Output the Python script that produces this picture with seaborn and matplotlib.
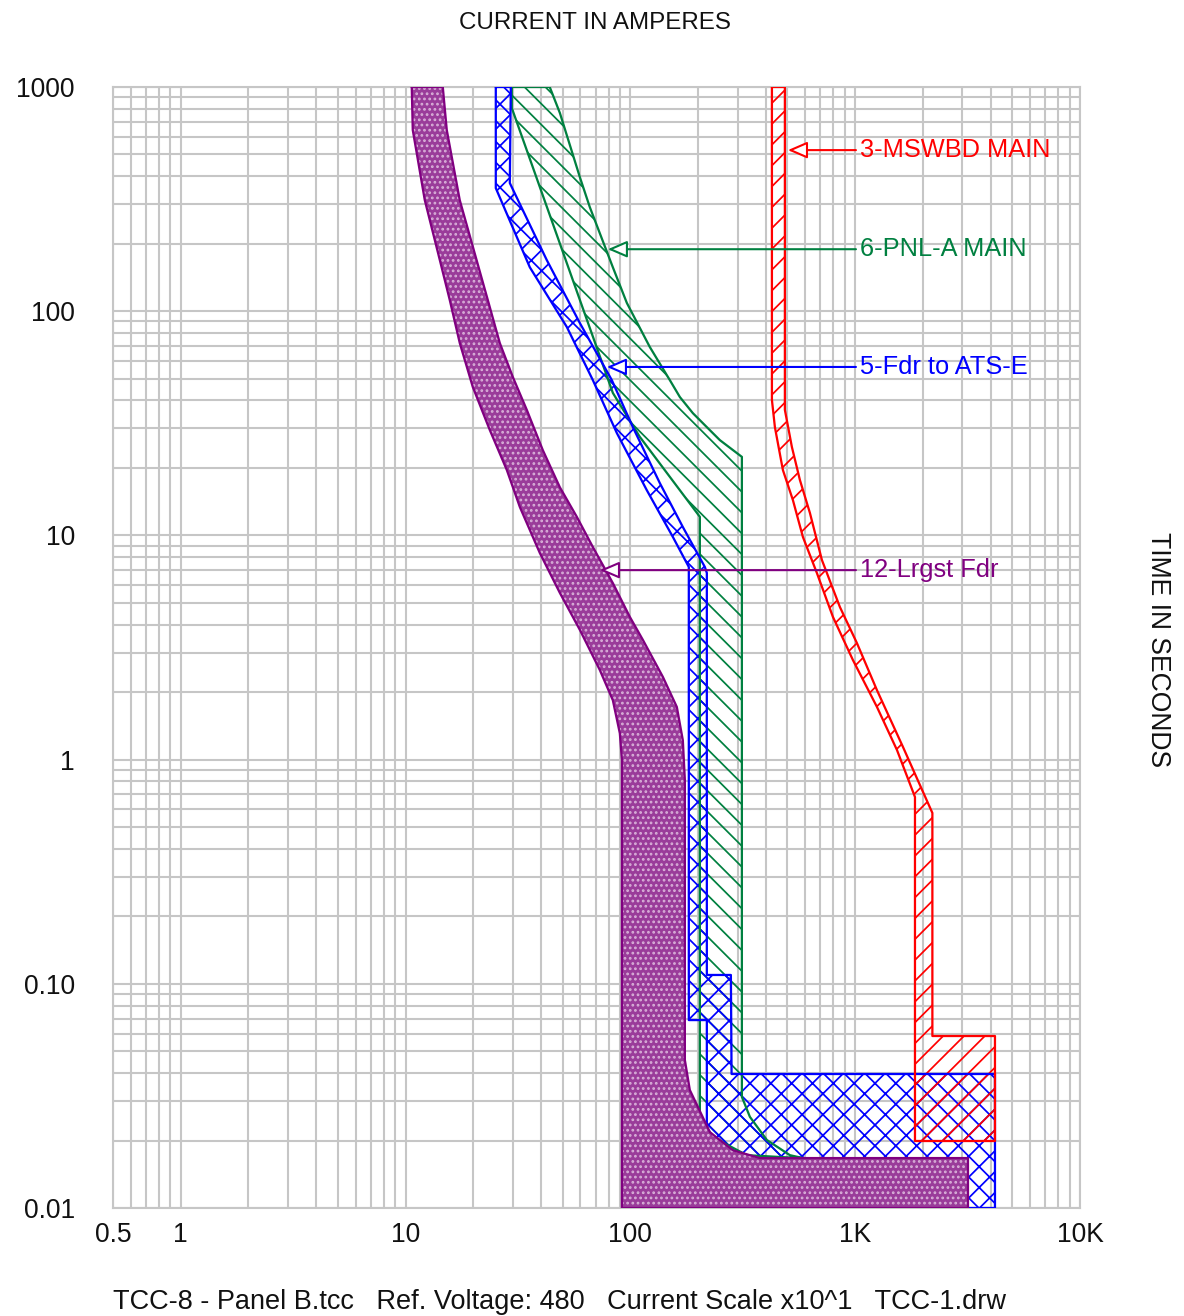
import matplotlib
matplotlib.use("Agg")
import matplotlib.pyplot as plt
import numpy as np
import pandas as pd
import seaborn as sns
from matplotlib.ticker import LogLocator, NullFormatter

# Axis ticks
X_TICKS = [0.5, 1, 10, 100, 1000, 10000]
X_TICK_LABELS = ["0.5", "1", "10", "100", "1K", "10K"]
Y_TICKS = [0.01, 0.1, 1, 10, 100, 1000]
Y_TICK_LABELS = ["0.01", "0.10", "1", "10", "100", "1000"]

# Band outlines (current in A x10, time in s): left edge going down, right edge coming back up
# 12-Lrgst Fdr
FDR12_AMPS = [10.66, 10.77, 12.18, 14.21, 15.73, 17.43, 19.92, 23.71, 28.22, 32.24, 39.56,
              48.58, 59.62, 73.14, 83.58, 89.8, 91.7, 91.7,
              3175, 3175, 376.9, 285.8, 225.9, 183.9, 174.8, 174.8, 171.2, 161.0, 139.5,
              113.7, 99.5, 83.58, 68.1, 57.81, 48.58, 40.81, 34.63, 30.01, 26.27, 23.23,
              17.43, 15.26, 14.65]
FDR12_SECS = [1000, 643, 313, 169, 112.2, 72.1, 45.9, 29.5, 19.57, 13.39, 8.35,
              5.54, 3.79, 2.51, 1.84, 1.31, 1.0, 0.01,
              0.01, 0.0167, 0.0167, 0.0181, 0.0218, 0.0336, 0.0457, 0.811, 1.22, 1.717, 2.34,
              3.42, 4.33, 6.13, 8.88, 12.1, 16.4, 24.0, 36.3, 50.9, 72.1, 112.2,
              313, 643, 1000]

# 5-Fdr to ATS-E
ATS_AMPS = [25.21, 25.21, 35.72, 52.19, 68.1, 87.1, 118.4, 154.6, 182, 182, 218.9, 218.9,
            4186, 4186, 282, 280, 218.9, 218.9, 214.5, 171.2, 135.3, 102.6, 82.7, 59.6,
            42.5, 29.1, 29.4]
ATS_SECS = [1000, 354, 157, 85.0, 49.3, 28.6, 15.9, 9.84, 7.23, 0.0689, 0.0689, 0.01,
            0.01, 0.0396, 0.0396, 0.1095, 0.1095, 6.80, 7.23, 10.9, 17.1, 30.4, 49.3, 88.6,
            169, 373, 1000]

# 6-PNL-A MAIN
PNLA_AMPS = [29.7, 29.7, 83.6, 110.2, 203.8, 203.8, 232.9, 329.9, 567.8,
             585.5, 512.6, 404.9, 340.2, 313.4, 313.4, 250.2, 218.9, 189.7, 166.1, 149.8,
             122.1, 96.5, 83.6, 66.0, 59.6, 48.6, 43.8]
PNLA_SECS = [1000, 806, 43.2, 27.5, 12.1, 0.0255, 0.0207, 0.0172, 0.0167,
             0.0167, 0.0172, 0.0201, 0.0255, 0.0313, 22.4, 26.6, 30.4, 35.1, 41.4, 49.3,
             69.2, 108.8, 157, 291.5, 396.8, 765.6, 1000]

# 3-MSWBD MAIN
MSWBD_AMPS = [426.3, 426.3, 439.5, 477, 528.4, 585.5, 675.5, 796.2, 977.2, 1250, 1534,
              1845, 1845, 4186, 4186, 2205, 2205, 1632, 1250, 1018, 855.4, 711.2, 629.0,
              567.8, 523.0, 486.8, 486.8]
MSWBD_SECS = [1000, 40.2, 30.4, 19.57, 14.38, 9.84, 6.80, 4.33, 2.78, 1.717, 1.104,
              0.681, 0.0199, 0.0199, 0.0585, 0.0585, 0.578, 1.138, 2.04, 3.31, 4.79, 7.77,
              12.6, 17.66, 24.8, 36.3, 1000]

# Leader labels
LABEL_NAMES = ["3-MSWBD MAIN", "6-PNL-A MAIN", "5-Fdr to ATS-E", "12-Lrgst Fdr"]
LABEL_SECS = [523, 189, 56.4, 7.0]
ARROW_AMPS = [502, 79.4, 78.6, 73.2]
LABEL_AMP = 1050

COLORS = {
    "3-MSWBD MAIN": "#ff0000",
    "6-PNL-A MAIN": "#008040",
    "5-Fdr to ATS-E": "#0000ff",
    "12-Lrgst Fdr": "#800080",
}

W, H, DPI = 1184, 1316, 125


def band_frame():
    bands = {
        "6-PNL-A MAIN": (PNLA_AMPS, PNLA_SECS),
        "5-Fdr to ATS-E": (ATS_AMPS, ATS_SECS),
        "3-MSWBD MAIN": (MSWBD_AMPS, MSWBD_SECS),
        "12-Lrgst Fdr": (FDR12_AMPS, FDR12_SECS),
    }
    rows = []
    for name, (amps, secs) in bands.items():
        # close the outline
        for a, s in zip(list(amps) + [amps[0]], list(secs) + [secs[0]]):
            rows.append({"band": name, "amps": a, "secs": s})
    return pd.DataFrame(rows), bands


def main():
    sns.set_theme(style="white")
    plt.rcParams["font.family"] = ["Liberation Sans", "DejaVu Sans"]
    plt.rcParams["hatch.linewidth"] = 1.0

    df, bands = band_frame()

    fig = plt.figure(figsize=(W / DPI, H / DPI), dpi=DPI)
    ax = fig.add_axes([113 / W, 1 - 1208 / H, 967 / W, 1121 / H])
    ax.set_xscale("log")
    ax.set_yscale("log")

    # hatched bands (transparent so overlaps show through)
    hatches = {"6-PNL-A MAIN": "\\\\", "5-Fdr to ATS-E": "xx", "3-MSWBD MAIN": "//"}
    for i, (name, hatch) in enumerate(hatches.items()):
        amps, secs = bands[name]
        ax.fill(amps, secs, facecolor="none", edgecolor=COLORS[name], hatch=hatch,
                lw=0, zorder=2 + i * 0.1)

    outl = df[df["band"] != "12-Lrgst Fdr"]
    sns.lineplot(data=outl, x="amps", y="secs", hue="band", palette=COLORS, sort=False,
                 estimator=None, legend=False, lw=1.3, ax=ax, zorder=3)

    # largest feeder: solid textured band on top
    amps, secs = bands["12-Lrgst Fdr"]
    ax.fill(amps, secs, facecolor="#9a3c9a", edgecolor="none", zorder=4)
    ax.fill(amps, secs, facecolor="none", edgecolor="#d8b0d8", hatch="....", lw=0, zorder=4.1)
    sns.lineplot(data=df[df["band"] == "12-Lrgst Fdr"], x="amps", y="secs",
                 color=COLORS["12-Lrgst Fdr"], sort=False, estimator=None, lw=1.3,
                 ax=ax, zorder=4.2)

    for name, t, a in zip(LABEL_NAMES, LABEL_SECS, ARROW_AMPS):
        c = COLORS[name]
        ax.annotate(name, xy=(a, t), xytext=(LABEL_AMP, t), color=c, fontsize=14.6,
                    ha="left", va="center", zorder=6,
                    arrowprops=dict(arrowstyle="-|>,head_length=0.65,head_width=0.28",
                                    ec=c, fc="white", lw=1.2, shrinkA=0, shrinkB=0))

    ax.set_xlim(0.5, 10000)
    ax.set_ylim(0.01, 1000)
    ax.set_xticks(X_TICKS, X_TICK_LABELS)
    ax.set_yticks(Y_TICKS, Y_TICK_LABELS)
    for axis in (ax.xaxis, ax.yaxis):
        axis.set_minor_locator(LogLocator(base=10, subs=np.arange(1, 10), numticks=60))
        axis.set_minor_formatter(NullFormatter())
    ax.grid(True, which="both", color="#c6c6c6", lw=1.2)
    ax.set_axisbelow(True)
    ax.tick_params(which="both", length=0)
    ax.tick_params(axis="x", pad=8, labelsize=15.3, colors="#111111")
    ax.tick_params(axis="y", pad=22, labelsize=15.3, colors="#111111")
    for sp in ax.spines.values():
        sp.set_color("#c6c6c6")
        sp.set_linewidth(1.2)
    ax.set_xlabel("")
    ax.set_ylabel("")

    fig.text(595 / W, 1 - 23 / H, "CURRENT IN AMPERES", ha="center", va="center",
             fontsize=13.9, color="#111111")
    fig.text(1158 / W, 1 - 650 / H, "TIME IN SECONDS", ha="center", va="center",
             rotation=270, fontsize=15.3, color="#111111")
    fig.text(113 / W, 1 - 1302 / H,
             "TCC-8 - Panel B.tcc   Ref. Voltage: 480   Current Scale x10^1   TCC-1.drw",
             ha="left", va="center", fontsize=15.6, color="#111111")

    fig.savefig("out.png", dpi=DPI, facecolor="white")


if __name__ == "__main__":
    main()
